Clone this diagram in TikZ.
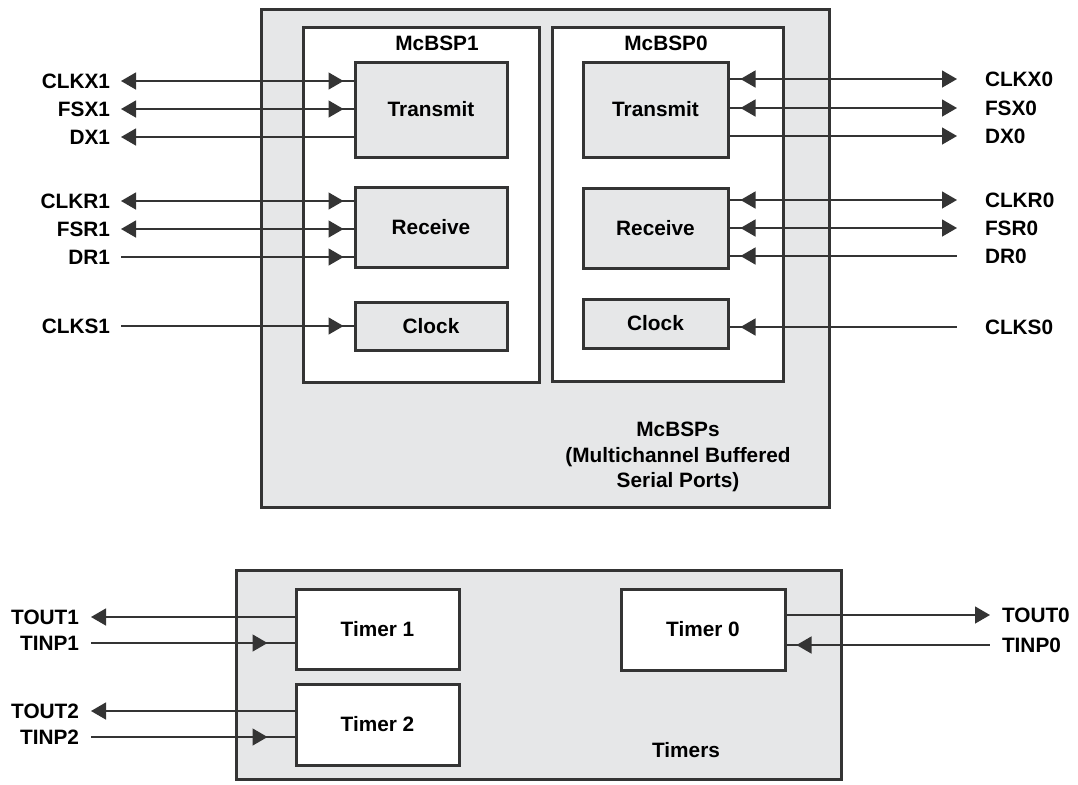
\documentclass[tikz,border=0pt]{standalone}
\usepackage{fontspec}
\setmainfont{Liberation Sans}
\usetikzlibrary{arrows.meta,decorations.markings}
\definecolor{boxgray}{RGB}{230,231,232}
\definecolor{ink}{RGB}{52,52,52}

\begin{document}
\begin{tikzpicture}[x=0.5pt, y=-0.5pt, font=\fontsize{10.4}{12.75}\selectfont\bfseries,
  sig/.style={draw=ink, line width=0.7pt, >={Triangle[length=7.5pt,width=8.5pt]}},
  tipin/.style={postaction={decorate}, decoration={markings, mark=at position #1 with {\arrowreversed[ink]{Triangle[length=7.5pt,width=8.5pt]}}}}]
\tikzstyle{blk}=[draw=ink, line width=1.5pt, inner sep=0pt, anchor=north west]
\tikzstyle{pinL}=[anchor=east, inner sep=0pt]
\tikzstyle{pinR}=[anchor=west, inner sep=0pt]
\useasboundingbox (0,0) rectangle (1078,784);

% McBSP block
\node[blk, fill=boxgray, minimum width=284pt, minimum height=249pt] (mcbsps) at (260,8) {};
\node[blk, fill=white, minimum width=118pt, minimum height=177.5pt] (mb1) at (302,26) {};
\node[blk, fill=white, minimum width=115.5pt, minimum height=177pt] (mb0) at (551,26) {};
\node (mb1lbl) at (437,43) {McBSP1};
\node (mb0lbl) at (666,43) {McBSP0};
\node[blk, fill=boxgray, minimum width=76pt, minimum height=47.5pt, anchor=center] (tx1) at (431,109.5) {Transmit};
\node[blk, fill=boxgray, minimum width=76pt, minimum height=40pt, anchor=center] (rx1) at (431,227) {Receive};
\node[blk, fill=boxgray, minimum width=76pt, minimum height=24pt, anchor=center] (ck1) at (431,326) {Clock};
\node[blk, fill=boxgray, minimum width=72.5pt, minimum height=47.5pt, anchor=center] (tx0) at (655.5,109.5) {Transmit};
\node[blk, fill=boxgray, minimum width=72.5pt, minimum height=40pt, anchor=center] (rx0) at (655.5,228) {Receive};
\node[blk, fill=boxgray, minimum width=72.5pt, minimum height=24.5pt, anchor=center] (ck0) at (655.5,323.5) {Clock};
\node[align=center] (mbcap) at (678,457) {McBSPs\\(Multichannel Buffered\\Serial Ports)};

% Timer block
\node[blk, fill=boxgray, minimum width=302.5pt, minimum height=104.5pt] (timers) at (235,569) {};
\node[blk, fill=white, minimum width=81.5pt, minimum height=40pt, anchor=center] (tm1) at (377.5,629) {Timer 1};
\node[blk, fill=white, minimum width=81.5pt, minimum height=40.5pt, anchor=center] (tm2) at (377.5,724.5) {Timer 2};
\node[blk, fill=white, minimum width=82pt, minimum height=40.5pt, anchor=center] (tm0) at (703,629.5) {Timer 0};
\node (tmlbl) at (686,750) {Timers};

% pin labels
\foreach \n/\t/\y in {clkx1/CLKX1/81, fsx1/FSX1/109, dx1/DX1/137, clkr1/CLKR1/201, fsr1/FSR1/229, dr1/DR1/257, clks1/CLKS1/326}
  \node[pinL, outer sep=5.5pt] (\n) at (121,\y) {\t};
\foreach \n/\t/\y in {clkx0/CLKX0/79, fsx0/FSX0/108, dx0/DX0/136, clkr0/CLKR0/200, fsr0/FSR0/228, dr0/DR0/256, clks0/CLKS0/327}
  \node[pinR, outer sep=14pt] (\n) at (957,\y) {\t};
\foreach \n/\t/\y in {tout1/TOUT1/617, tinp1/TINP1/643, tout2/TOUT2/711, tinp2/TINP2/737}
  \node[pinL, outer sep=6pt] (\n) at (91,\y) {\t};
\foreach \n/\t/\y in {tout0/TOUT0/615, tinp0/TINP0/645}
  \node[pinR, outer sep=6pt] (\n) at (990,\y) {\t};

% connectors
\foreach \n/\b in {clkx1/tx1, fsx1/tx1, clkr1/rx1, fsr1/rx1}
  \draw[sig, ->, tipin=5pt] (\b.west |- \n) -- (\n);
\draw[sig, ->] (tx1.west |- dx1) -- (dx1);
\foreach \n/\b in {dr1/rx1, clks1/ck1}
  \draw[sig, tipin=5pt] (\b.west |- \n) -- (\n);
\foreach \n/\b in {clkx0/tx0, fsx0/tx0, clkr0/rx0, fsr0/rx0}
  \draw[sig, ->, tipin=5.5pt] (\b.east |- \n) -- (\n);
\draw[sig, ->] (tx0.east |- dx0) -- (dx0);
\foreach \n/\b in {dr0/rx0, clks0/ck0}
  \draw[sig, tipin=5.5pt] (\b.east |- \n) -- (\n);
\foreach \n/\b in {tout1/tm1, tout2/tm2}
  \draw[sig, ->] (\b.west |- \n) -- (\n);
\foreach \n/\b in {tinp1/tm1, tinp2/tm2}
  \draw[sig, tipin=13.5pt] (\b.west |- \n) -- (\n);
\draw[sig, ->] (tm0.east |- tout0) -- (tout0);
\draw[sig, tipin=5pt] (tm0.east |- tinp0) -- (tinp0);
\end{tikzpicture}
\end{document}
